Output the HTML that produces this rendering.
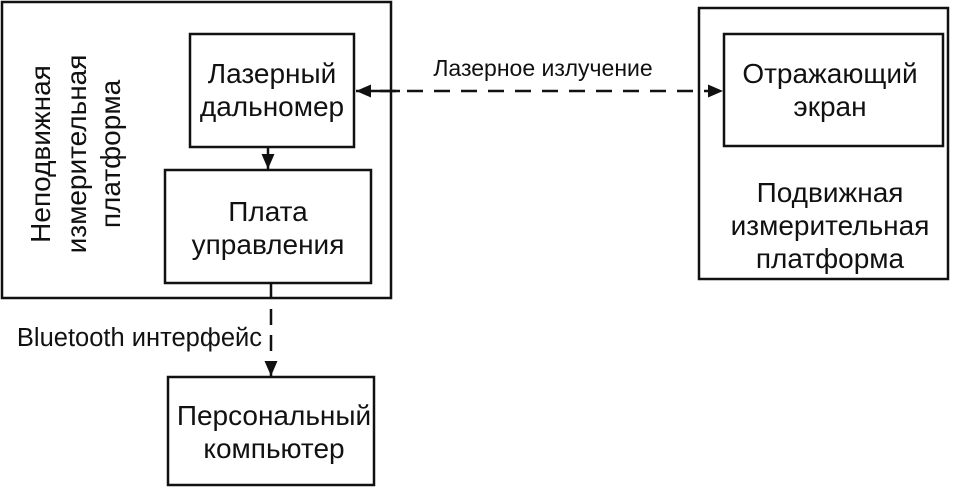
<!DOCTYPE html>
<html><head><style>
body{margin:0;width:954px;height:491px;background:#fff;overflow:hidden}
svg text{font-family:"Liberation Sans",Arial,sans-serif;fill:#111}
</style></head><body>
<svg width="954" height="491" viewBox="0 0 954 491" xmlns="http://www.w3.org/2000/svg">
<defs>
<marker id="a" markerWidth="15" markerHeight="13" refX="15" refY="6.5" orient="auto" markerUnits="userSpaceOnUse"><path d="M0,0 L15,6.5 L0,13 Z" fill="#111"/></marker>
</defs>
<g fill="none" stroke="#111" stroke-width="2.5">
<rect x="2" y="2" width="389" height="296"/>
<rect x="190" y="34" width="164" height="113"/>
<rect x="165" y="170" width="206" height="113"/>
<rect x="699" y="8" width="249" height="271"/>
<rect x="724" y="34" width="219" height="112"/>
<rect x="168" y="377" width="206" height="108"/>
</g>
<g stroke="#111" stroke-width="2.5" fill="none">
<line x1="268" y1="147" x2="268" y2="169" marker-end="url(#a)"/>
<line x1="400" y1="91" x2="356" y2="91" marker-end="url(#a)"/>
<line x1="380" y1="91" x2="723" y2="91" stroke-dasharray="16,11" marker-end="url(#a)"/>
<line x1="271" y1="283" x2="271" y2="376" stroke-dasharray="16,10" marker-end="url(#a)"/>
</g>
<g font-size="28" text-anchor="middle">
<text x="272" y="83">Лазерный</text>
<text x="272" y="116">дальномер</text>
<text x="268" y="221">Плата</text>
<text x="268" y="254">управления</text>
<text x="830" y="83">Отражающий</text>
<text x="830" y="116">экран</text>
<text x="830" y="202">Подвижная</text>
<text x="830" y="235">измерительная</text>
<text x="830" y="268">платформа</text>
<text x="274" y="425">Персональный</text>
<text x="274" y="458">компьютер</text>
<g transform="translate(80,154) rotate(-90)">
<text x="0" y="-30">Неподвижная</text>
<text x="0" y="6">измерительная</text>
<text x="0" y="40">платформа</text>
</g>
</g>
<text x="543" y="76" font-size="23" text-anchor="middle">Лазерное излучение</text>
<text x="262" y="346" font-size="25.5" text-anchor="end">Bluetooth интерфейс</text>
</svg>
</body></html>
